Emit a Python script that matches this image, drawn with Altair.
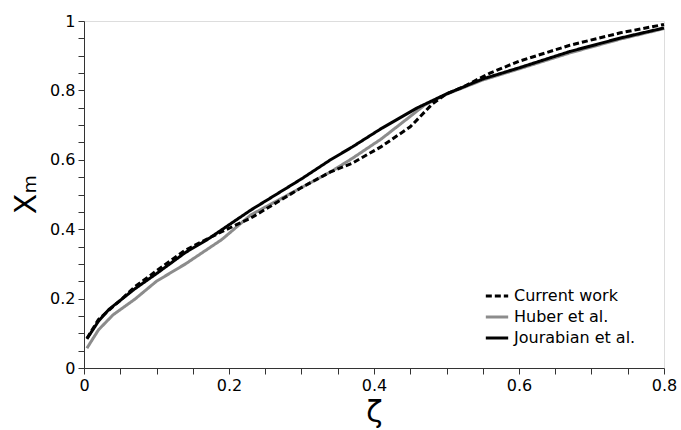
import altair as alt
import pandas as pd

series_names = ["Current work", "Huber et al.", "Jourabian et al."]

cur_x = [0.004, 0.02, 0.05, 0.07, 0.1, 0.14, 0.19, 0.23, 0.3, 0.34, 0.37, 0.41, 0.45, 0.48, 0.5, 0.525, 0.545, 0.56, 0.6, 0.67, 0.74, 0.8]
cur_y = [0.085, 0.14, 0.195, 0.234, 0.28, 0.34, 0.393, 0.432, 0.52, 0.565, 0.59, 0.638, 0.695, 0.76, 0.79, 0.812, 0.834, 0.85, 0.884, 0.93, 0.966, 0.99]

hub_x = [0.004, 0.02, 0.04, 0.07, 0.1, 0.14, 0.19, 0.23, 0.3, 0.34, 0.37, 0.41, 0.45, 0.47, 0.5, 0.55, 0.6, 0.67, 0.74, 0.8]
hub_y = [0.057, 0.11, 0.153, 0.198, 0.25, 0.3, 0.37, 0.441, 0.52, 0.565, 0.604, 0.66, 0.725, 0.758, 0.789, 0.83, 0.862, 0.908, 0.948, 0.978]

jou_x = [0.004, 0.02, 0.035, 0.07, 0.1, 0.14, 0.17, 0.23, 0.3, 0.34, 0.37, 0.41, 0.46, 0.5, 0.55, 0.6, 0.67, 0.74, 0.8]
jou_y = [0.084, 0.135, 0.17, 0.228, 0.272, 0.333, 0.37, 0.455, 0.545, 0.6, 0.637, 0.69, 0.75, 0.79, 0.833, 0.865, 0.912, 0.951, 0.98]

rows = []
for name, xs, ys in [(series_names[0], cur_x, cur_y), (series_names[1], hub_x, hub_y), (series_names[2], jou_x, jou_y)]:
    for i, (a, b) in enumerate(zip(xs, ys)):
        rows.append({"series": name, "zeta": a, "xm": b, "idx": i})
df = pd.DataFrame(rows)

tick_vals_x = [round(i * 0.05, 2) for i in range(17)]
tick_vals_y = [round(i * 0.05, 2) for i in range(21)]
label_expr = "abs(datum.value*5 - round(datum.value*5)) < 0.001 ? format(datum.value, '~g') : ''"

FONT = "DejaVu Sans"

legend_kw = dict(title=None, orient="none", legendX=400, legendY=262,
                 symbolType="stroke", symbolStrokeWidth=3, symbolSize=500,
                 labelFontSize=16, labelFont=FONT, labelColor="#000",
                 rowPadding=0, symbolOffset=0, labelOffset=4)

base = alt.Chart(df).mark_line(strokeWidth=3).encode(
    x=alt.X("zeta:Q", scale=alt.Scale(domain=[0, 0.8], nice=False, zero=False),
            axis=alt.Axis(values=tick_vals_x, labelExpr=label_expr, title="ζ",
                          titleFontSize=30, titleFont=FONT, titleFontWeight="normal",
                          titleBaseline="top", titleY=29,
                          grid=False, tickSize=6, labelFontSize=16, labelFont=FONT,
                          labelPadding=3, domainColor="#333", tickColor="#333",
                          labelColor="#000", titleColor="#000", labelFlush=False)),
    y=alt.Y("xm:Q", scale=alt.Scale(domain=[0, 1], nice=False),
            axis=alt.Axis(values=tick_vals_y, labelExpr=label_expr, title="Xₘ",
                          titleFontSize=30, titleFont=FONT, titleFontWeight="normal",
                          titleAngle=-90, titleX=-58, titleY=173, titleAlign="center",
                          titleBaseline="middle",
                          grid=False, tickSize=6, labelFontSize=16, labelFont=FONT,
                          labelPadding=3, domainColor="#333", tickColor="#333",
                          labelColor="#000", titleColor="#000", labelFlush=False)),
    color=alt.Color("series:N",
                    scale=alt.Scale(domain=series_names, range=["#000000", "#8c8c8c", "#000000"]),
                    legend=alt.Legend(**legend_kw)),
    strokeDash=alt.StrokeDash("series:N",
                              scale=alt.Scale(domain=series_names, range=[[6, 3], [1, 0], [1, 0]]),
                              legend=alt.Legend(**legend_kw)),
    order="idx:Q",
)

draw_order = ["Huber et al.", "Jourabian et al.", "Current work"]
layers = [base.transform_filter(alt.datum.series == s) for s in draw_order]

chart = alt.layer(*layers).properties(
    width=580, height=347,
    autosize=alt.AutoSizeParams(type="none"),
    padding={"left": 84, "top": 21, "right": 17, "bottom": 62},
).configure_view(stroke="#777", strokeWidth=1.5).configure(background="white")

chart.save("out.html", embed_options={"renderer": "svg", "actions": False})
